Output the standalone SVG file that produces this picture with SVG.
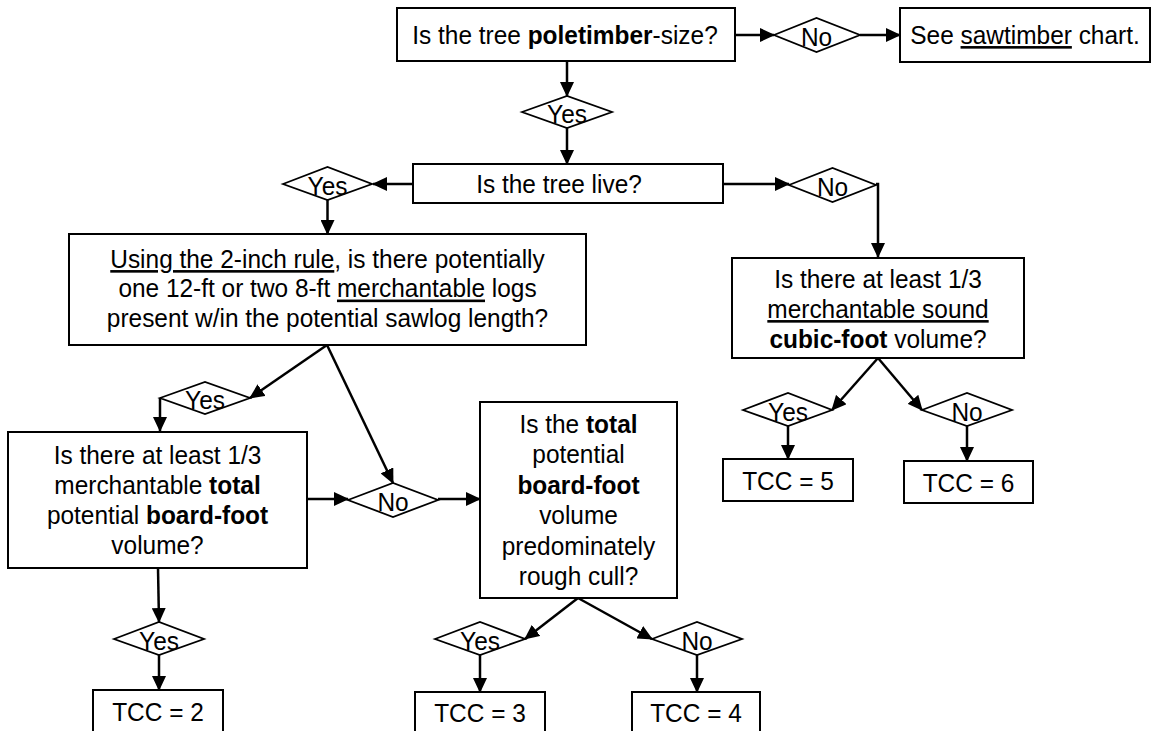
<svg xmlns="http://www.w3.org/2000/svg" width="1156" height="731" viewBox="0 0 1156 731">
<style>
.box{fill:#fff;stroke:#000;stroke-width:2}
.dia{fill:#fff;stroke:#000;stroke-width:1.8}
.t{font-family:"Liberation Sans",Arial,sans-serif;font-size:26px;fill:#000;text-anchor:middle}
.b{font-weight:bold}
.u{text-decoration:underline}
.ca{stroke:#000;stroke-width:2.5;fill:none;marker-end:url(#ah)}
</style>
<defs>
<marker id="ah" markerUnits="userSpaceOnUse" markerWidth="15" markerHeight="14" refX="14" refY="7" orient="auto">
<path d="M0,0 L15,7 L0,14 z" fill="#000"/>
</marker>
</defs>
<rect width="1156" height="731" fill="#fff"/>
<g id="connectors">
<line class="ca" x1="735" y1="35" x2="774" y2="35"/>
<line class="ca" x1="860" y1="35" x2="900" y2="35"/>
<line class="ca" x1="567" y1="61" x2="567" y2="96"/>
<line class="ca" x1="567" y1="128" x2="567" y2="164"/>
<line class="ca" x1="413" y1="184" x2="373" y2="184"/>
<line class="ca" x1="723" y1="184" x2="789" y2="184"/>
<line class="ca" x1="327.5" y1="200" x2="327.5" y2="234"/>
<polyline class="ca" points="876,184 878,184 878,257"/>
<line class="ca" x1="327" y1="345" x2="250" y2="398"/>
<line class="ca" x1="327" y1="345" x2="393" y2="483"/>
<line class="ca" x1="160" y1="398" x2="160" y2="431"/>
<line class="ca" x1="307" y1="499" x2="348" y2="499"/>
<line class="ca" x1="438" y1="499" x2="480" y2="499"/>
<line class="ca" x1="158" y1="568" x2="159" y2="622"/>
<line class="ca" x1="159" y1="655" x2="159" y2="690"/>
<line class="ca" x1="578" y1="598" x2="525" y2="639"/>
<line class="ca" x1="578" y1="598" x2="652" y2="639"/>
<line class="ca" x1="480" y1="655" x2="480" y2="692"/>
<line class="ca" x1="697" y1="655" x2="697" y2="692"/>
<line class="ca" x1="878" y1="358" x2="832" y2="410"/>
<line class="ca" x1="878" y1="358" x2="922" y2="410"/>
<line class="ca" x1="788" y1="426" x2="788" y2="459"/>
<line class="ca" x1="967" y1="426" x2="967" y2="461"/>
</g>
<g id="n-poletimber">
<rect class="box" x="397" y="8" width="338" height="53"/>
<text class="t" transform="matrix(0.94,0,0,1,565,0)" x="0" y="44">Is the tree <tspan class="b">poletimber</tspan>-size?</text>
</g>
<g id="d-no-top">
<polygon class="dia" points="774,35 816.5,18 860,35 816.5,52"/>
<text class="t" transform="matrix(0.94,0,0,1,816.5,0)" x="0" y="46">No</text>
</g>
<g id="n-sawtimber">
<rect class="box" x="900" y="8" width="250" height="54"/>
<text class="t" transform="matrix(0.94,0,0,1,1025,0)" x="0" y="44">See <tspan class="u">sawtimber</tspan> chart.</text>
</g>
<g id="d-yes-top">
<polygon class="dia" points="522,112 567,96 612,112 567,128"/>
<text class="t" transform="matrix(0.94,0,0,1,567,0)" x="0" y="123">Yes</text>
</g>
<g id="n-live">
<rect class="box" x="413" y="164" width="310" height="39"/>
<text class="t" transform="matrix(0.94,0,0,1,559,0)" x="0" y="193">Is the tree live?</text>
</g>
<g id="d-yes-live">
<polygon class="dia" points="283,184 327.5,167 372,184 327.5,200"/>
<text class="t" transform="matrix(0.94,0,0,1,327.5,0)" x="0" y="195">Yes</text>
</g>
<g id="d-no-live">
<polygon class="dia" points="789,185 832.5,168 876,185 832.5,202"/>
<text class="t" transform="matrix(0.94,0,0,1,832.5,0)" x="0" y="196">No</text>
</g>
<g id="n-2inch">
<rect class="box" x="69" y="234" width="517" height="111"/>
<g transform="matrix(0.94,0,0,1,327.5,0)">
<text class="t" x="0" y="268"><tspan class="u">Using the 2-inch rule</tspan>, is there potentially</text>
<text class="t" x="0" y="297.5">one 12-ft or two 8-ft <tspan class="u">merchantable</tspan> logs</text>
<text class="t" x="0" y="327">present w/in the potential sawlog length?</text>
</g>
</g>
<g id="n-cubic">
<rect class="box" x="732" y="258" width="292" height="100"/>
<g transform="matrix(0.94,0,0,1,878,0)">
<text class="t" x="0" y="288">Is there at least 1/3</text>
<text class="t u" x="0" y="318">merchantable sound</text>
<text class="t" x="0" y="348"><tspan class="b">cubic-foot</tspan> volume?</text>
</g>
</g>
<g id="d-yes-2inch">
<polygon class="dia" points="160,398 205,382 250,398 205,414"/>
<text class="t" transform="matrix(0.94,0,0,1,205,0)" x="0" y="409">Yes</text>
</g>
<g id="d-no-2inch">
<polygon class="dia" points="348,500 393,483 438,500 393,517"/>
<text class="t" transform="matrix(0.94,0,0,1,393,0)" x="0" y="511">No</text>
</g>
<g id="n-boardfoot">
<rect class="box" x="8" y="432" width="299" height="136"/>
<g transform="matrix(0.94,0,0,1,157.5,0)">
<text class="t" x="0" y="464">Is there at least 1/3</text>
<text class="t" x="0" y="494">merchantable <tspan class="b">total</tspan></text>
<text class="t" x="0" y="524">potential <tspan class="b">board-foot</tspan></text>
<text class="t" x="0" y="554">volume?</text>
</g>
</g>
<g id="n-roughcull">
<rect class="box" x="480" y="402" width="197" height="196"/>
<g transform="matrix(0.94,0,0,1,578.5,0)">
<text class="t" x="0" y="433">Is the <tspan class="b">total</tspan></text>
<text class="t" x="0" y="463.5">potential</text>
<text class="t" x="0" y="494"><tspan class="b">board-foot</tspan></text>
<text class="t" x="0" y="524.5">volume</text>
<text class="t" x="0" y="555">predominately</text>
<text class="t" x="0" y="585.5">rough cull?</text>
</g>
</g>
<g id="d-yes-cubic">
<polygon class="dia" points="743,410 788,393 832,410 788,426"/>
<text class="t" transform="matrix(0.94,0,0,1,788,0)" x="0" y="421">Yes</text>
</g>
<g id="d-no-cubic">
<polygon class="dia" points="922,410 967,393 1012,410 967,426"/>
<text class="t" transform="matrix(0.94,0,0,1,967,0)" x="0" y="421">No</text>
</g>
<g id="n-tcc5">
<rect class="box" x="723" y="459" width="130" height="42"/>
<text class="t" transform="matrix(0.94,0,0,1,788,0)" x="0" y="490">TCC = 5</text>
</g>
<g id="n-tcc6">
<rect class="box" x="904" y="461" width="129" height="42"/>
<text class="t" transform="matrix(0.94,0,0,1,968.5,0)" x="0" y="492">TCC = 6</text>
</g>
<g id="d-yes-board">
<polygon class="dia" points="114,639 159,622 204,639 159,655"/>
<text class="t" transform="matrix(0.94,0,0,1,159,0)" x="0" y="650">Yes</text>
</g>
<g id="d-yes-rough">
<polygon class="dia" points="435,639 480,622 525,639 480,655"/>
<text class="t" transform="matrix(0.94,0,0,1,480,0)" x="0" y="650">Yes</text>
</g>
<g id="d-no-rough">
<polygon class="dia" points="652,639 697,622 742,639 697,655"/>
<text class="t" transform="matrix(0.94,0,0,1,697,0)" x="0" y="650">No</text>
</g>
<g id="n-tcc2">
<rect class="box" x="93" y="690" width="130" height="50"/>
<text class="t" transform="matrix(0.94,0,0,1,158,0)" x="0" y="721">TCC = 2</text>
</g>
<g id="n-tcc3">
<rect class="box" x="415" y="692" width="130" height="50"/>
<text class="t" transform="matrix(0.94,0,0,1,480,0)" x="0" y="722">TCC = 3</text>
</g>
<g id="n-tcc4">
<rect class="box" x="632" y="692" width="128" height="50"/>
<text class="t" transform="matrix(0.94,0,0,1,696,0)" x="0" y="722">TCC = 4</text>
</g>
</svg>
